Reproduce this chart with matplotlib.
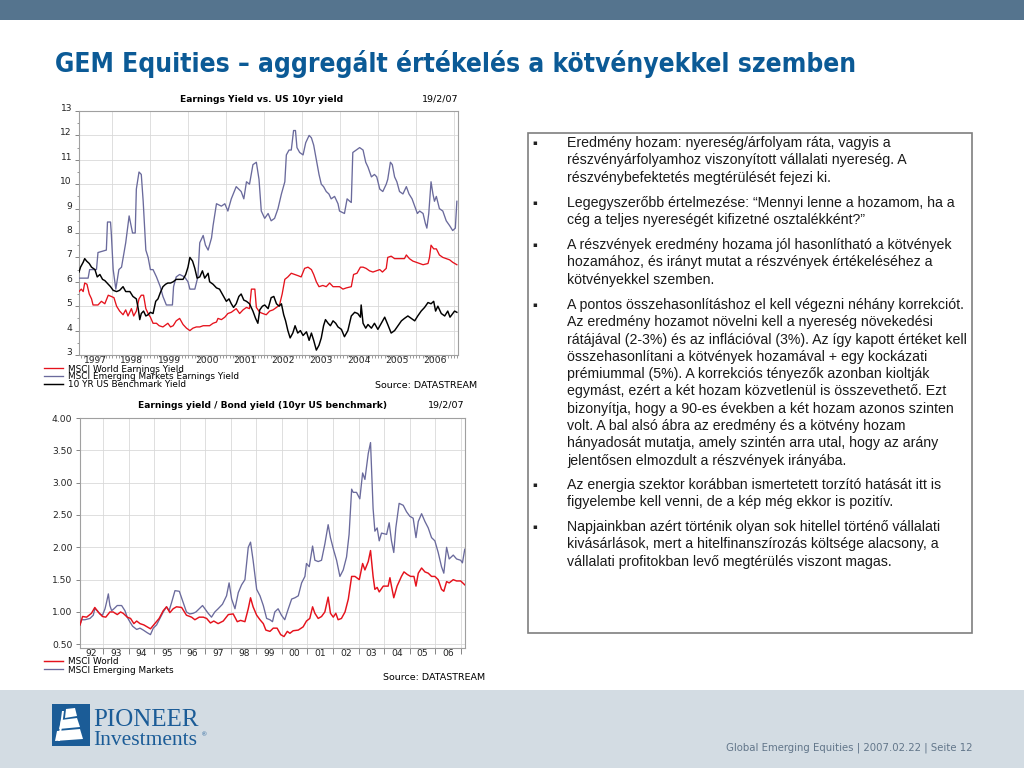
import os
import numpy as np
import matplotlib
matplotlib.use('Agg')
import matplotlib.pyplot as plt
from matplotlib import font_manager
from matplotlib.font_manager import FontProperties
from matplotlib.patches import Rectangle, Polygon
from matplotlib.ticker import FixedLocator, MultipleLocator, NullFormatter

# ---------------- data: top chart (yields, %) ----------------
em_ey_dates = [1997.12, 1997.36, 1997.40, 1997.58, 1997.62, 1997.84, 1997.87, 1997.95, 1997.97, 1998.02,
               1998.09, 1998.17, 1998.24, 1998.35, 1998.44, 1998.53, 1998.60, 1998.63, 1998.70, 1998.76,
               1998.81, 1998.88, 1998.94, 1999.00, 1999.07, 1999.16, 1999.26, 1999.33, 1999.42, 1999.58,
               1999.61, 1999.68, 1999.77, 1999.90, 1999.99, 2000.04, 2000.17, 2000.25, 2000.30, 2000.39,
               2000.45, 2000.52, 2000.61, 2000.65, 2000.74, 2000.87, 2000.96, 2001.04, 2001.13, 2001.26,
               2001.39, 2001.46, 2001.53, 2001.61, 2001.70, 2001.79, 2001.86, 2001.92, 2002.01, 2002.10,
               2002.18, 2002.27, 2002.36, 2002.45, 2002.54, 2002.58, 2002.65, 2002.71, 2002.77, 2002.82,
               2002.86, 2002.93, 2003.02, 2003.09, 2003.18, 2003.24, 2003.30, 2003.37, 2003.44, 2003.50,
               2003.56, 2003.63, 2003.70, 2003.76, 2003.85, 2003.94, 2003.98, 2004.11, 2004.18, 2004.25,
               2004.29, 2004.33, 2004.42, 2004.51, 2004.60, 2004.67, 2004.73, 2004.82, 2004.90, 2004.96,
               2005.04, 2005.12, 2005.21, 2005.25, 2005.32, 2005.37, 2005.43, 2005.49, 2005.56, 2005.65,
               2005.74, 2005.81, 2005.89, 2005.96, 2006.03, 2006.09, 2006.18, 2006.24, 2006.28, 2006.33,
               2006.39, 2006.44, 2006.48, 2006.53, 2006.61, 2006.70, 2006.79, 2006.88, 2006.96, 2007.03,
               2007.07]
em_ey = [6.15, 6.15, 6.5, 6.5, 7.2, 7.3, 8.45, 8.45, 8.0, 6.5,
         5.7, 6.5, 6.6, 7.6, 8.7, 8.0, 8.0, 9.8, 10.5, 10.4,
         9.3, 7.3, 7.0, 6.5, 6.5, 6.2, 5.8, 5.4, 5.05, 5.05,
         5.8, 6.2, 6.3, 6.2, 6.0, 5.7, 5.7, 6.2, 7.6, 7.9,
         7.5, 7.3, 7.8, 8.3, 9.2, 9.1, 9.2, 8.9, 9.4, 9.9,
         9.7, 9.4, 10.1, 10.0, 10.8, 10.9, 10.2, 8.9, 8.6, 8.8,
         8.5, 8.6, 9.0, 9.6, 10.1, 11.2, 11.4, 11.4, 12.2, 12.2,
         11.5, 11.3, 11.2, 11.7, 12.0, 11.9, 11.6, 11.0, 10.4, 10.0,
         9.9, 9.7, 9.6, 9.4, 9.5, 9.2, 8.9, 8.8, 9.4, 9.3,
         9.25, 11.3, 11.4, 11.5, 11.4, 10.9, 10.7, 10.3, 10.4, 10.3,
         9.8, 9.7, 10.0, 10.2, 10.9, 10.8, 10.3, 10.1, 9.7, 9.6,
         9.9, 9.6, 9.4, 9.1, 8.8, 8.9, 8.8, 8.4, 8.2, 8.8,
         10.1, 9.6, 9.3, 9.5, 9.0, 8.9, 8.5, 8.3, 8.1, 8.2,
         9.3]

world_ey_dates = [1997.12, 1997.18, 1997.23, 1997.27, 1997.33, 1997.39, 1997.45, 1997.49, 1997.62, 1997.71,
                  1997.80, 1997.89, 1997.97, 1998.04, 1998.11, 1998.19, 1998.28, 1998.35, 1998.41, 1998.50,
                  1998.56, 1998.63, 1998.70, 1998.76, 1998.82, 1998.88, 1998.94, 1999.00, 1999.07, 1999.16,
                  1999.23, 1999.33, 1999.46, 1999.53, 1999.60, 1999.68, 1999.77, 1999.86, 1999.95, 2000.04,
                  2000.12, 2000.21, 2000.30, 2000.39, 2000.47, 2000.56, 2000.65, 2000.74, 2000.78, 2000.87,
                  2000.96, 2001.04, 2001.13, 2001.26, 2001.35, 2001.44, 2001.53, 2001.61, 2001.66, 2001.75,
                  2001.79, 2001.88, 2001.96, 2002.05, 2002.14, 2002.23, 2002.32, 2002.40, 2002.47, 2002.54,
                  2002.62, 2002.71, 2002.80, 2002.89, 2002.97, 2003.06, 2003.15, 2003.24, 2003.30, 2003.37,
                  2003.44, 2003.54, 2003.63, 2003.72, 2003.81, 2003.89, 2003.98, 2004.07, 2004.16, 2004.29,
                  2004.35, 2004.44, 2004.53, 2004.60, 2004.68, 2004.77, 2004.86, 2004.95, 2005.04, 2005.11,
                  2005.21, 2005.25, 2005.34, 2005.43, 2005.56, 2005.69, 2005.74, 2005.82, 2005.91, 2006.00,
                  2006.09, 2006.18, 2006.31, 2006.35, 2006.39, 2006.46, 2006.53, 2006.61, 2006.70, 2006.79,
                  2006.88, 2006.96, 2007.07]
world_ey = [5.6, 5.7, 5.6, 5.95, 5.9, 5.5, 5.3, 5.05, 5.05, 5.2,
            5.1, 5.45, 5.4, 5.35, 5.0, 4.8, 4.65, 4.85, 4.6, 4.9,
            4.6, 4.8, 5.3, 5.45, 5.45, 4.9, 4.7, 4.55, 4.3, 4.3,
            4.2, 4.15, 4.3, 4.15, 4.2, 4.4, 4.5, 4.25, 4.1, 4.0,
            4.1, 4.15, 4.15, 4.2, 4.2, 4.2, 4.3, 4.35, 4.5, 4.45,
            4.55, 4.7, 4.75, 4.9, 4.7, 4.85, 4.95, 4.9, 5.7, 5.7,
            4.95, 4.75, 4.7, 4.65, 4.8, 4.85, 4.95, 5.05, 5.5, 6.1,
            6.2, 6.35, 6.3, 6.25, 6.2, 6.55, 6.6, 6.5, 6.3, 6.0,
            5.8, 5.85, 5.8, 5.95, 5.8, 5.8, 5.8, 5.7, 5.75, 5.8,
            6.3, 6.35, 6.6, 6.6, 6.55, 6.45, 6.4, 6.45, 6.5, 6.4,
            6.55, 7.0, 7.05, 6.95, 6.95, 6.95, 7.1, 6.95, 6.85, 6.8,
            6.75, 6.7, 6.75, 7.0, 7.5, 7.35, 7.35, 7.1, 7.0, 6.95,
            6.9, 6.8, 6.7]

us10_dates = [1997.12, 1997.16, 1997.23, 1997.27, 1997.32, 1997.39, 1997.45, 1997.54, 1997.60, 1997.67,
              1997.74, 1997.80, 1997.89, 1997.95, 1998.02, 1998.11, 1998.19, 1998.28, 1998.35, 1998.46,
              1998.54, 1998.63, 1998.68, 1998.72, 1998.76, 1998.82, 1998.88, 1998.94, 1999.00, 1999.07,
              1999.14, 1999.20, 1999.26, 1999.33, 1999.40, 1999.46, 1999.53, 1999.60, 1999.68, 1999.77,
              1999.86, 1999.93, 1999.99, 2000.04, 2000.11, 2000.17, 2000.23, 2000.30, 2000.37, 2000.43,
              2000.52, 2000.56, 2000.65, 2000.74, 2000.82, 2000.91, 2001.00, 2001.07, 2001.13, 2001.19,
              2001.26, 2001.33, 2001.39, 2001.46, 2001.53, 2001.61, 2001.70, 2001.77, 2001.83, 2001.88,
              2001.95, 2002.01, 2002.10, 2002.18, 2002.25, 2002.32, 2002.39, 2002.45, 2002.51, 2002.56,
              2002.62, 2002.68, 2002.75, 2002.81, 2002.88, 2002.95, 2003.02, 2003.11, 2003.18, 2003.24,
              2003.30, 2003.37, 2003.44, 2003.50, 2003.56, 2003.61, 2003.68, 2003.74, 2003.81, 2003.88,
              2003.94, 2004.03, 2004.11, 2004.20, 2004.29, 2004.38, 2004.46, 2004.53, 2004.55, 2004.60,
              2004.67, 2004.73, 2004.82, 2004.90, 2004.99, 2005.08, 2005.17, 2005.25, 2005.34, 2005.43,
              2005.52, 2005.61, 2005.69, 2005.78, 2005.87, 2005.96, 2006.04, 2006.13, 2006.22, 2006.31,
              2006.39, 2006.46, 2006.51, 2006.57, 2006.66, 2006.75, 2006.83, 2006.89, 2006.96, 2007.01,
              2007.07]
us10 = [6.4, 6.6, 6.8, 6.95, 6.85, 6.75, 6.6, 6.5, 6.2, 6.3,
        6.1, 6.05, 5.9, 5.8, 5.65, 5.6, 5.65, 5.8, 5.6, 5.6,
        5.4, 5.3, 4.9, 4.45, 4.7, 4.8, 4.6, 4.65, 4.75, 4.7,
        5.2, 5.3, 5.55, 5.8, 5.9, 5.95, 5.95, 6.0, 6.1, 6.1,
        6.1, 6.3, 6.6, 7.0, 6.85, 6.55, 6.15, 6.2, 6.45, 6.15,
        6.35, 6.0, 5.9, 5.75, 5.7, 5.45, 5.2, 5.3, 5.1, 4.95,
        5.1, 5.4, 5.5, 5.25, 5.2, 5.1, 4.8, 4.5, 4.3, 4.85,
        5.0, 5.05, 4.9, 5.35, 5.4, 5.1, 5.0, 5.1, 4.65, 4.4,
        4.0, 3.7, 3.9, 4.2, 3.9, 4.0, 3.8, 3.95, 3.6, 3.9,
        3.6, 3.2, 3.4, 3.7, 4.2, 4.45, 4.3, 4.2, 4.4, 4.3,
        4.15, 4.05, 3.75, 4.0, 4.6, 4.75, 4.7, 4.55, 5.05, 4.3,
        4.1, 4.25, 4.1, 4.3, 4.05, 4.3, 4.55, 4.25, 3.9, 4.0,
        4.2, 4.4, 4.5, 4.6, 4.5, 4.4, 4.6, 4.8, 4.95, 5.15,
        5.1, 5.2, 4.8, 5.0, 4.7, 4.6, 4.8, 4.55, 4.7, 4.8,
        4.75]

top_years = list(range(1997, 2007))
top_legend = ['MSCI World Earnings Yield', 'MSCI Emerging Markets Earnings Yield', '10 YR US Benchmark Yield']

# ---------------- data: bottom chart (earnings yield / bond yield) ----------------
world_ratio_dates = [1992.09, 1992.19, 1992.35, 1992.54, 1992.67, 1992.80, 1992.97, 1993.10, 1993.26, 1993.39,
                     1993.55, 1993.68, 1993.78, 1993.94, 1994.07, 1994.20, 1994.31, 1994.44, 1994.59, 1994.72,
                     1994.85, 1995.02, 1995.19, 1995.35, 1995.48, 1995.61, 1995.74, 1995.87, 1996.07, 1996.26,
                     1996.46, 1996.59, 1996.76, 1996.92, 1997.05, 1997.20, 1997.33, 1997.50, 1997.70, 1997.90,
                     1998.09, 1998.25, 1998.38, 1998.55, 1998.68, 1998.77, 1998.87, 1999.01, 1999.14, 1999.27,
                     1999.37, 1999.53, 1999.66, 1999.81, 1999.95, 2000.08, 2000.21, 2000.31, 2000.44, 2000.64,
                     2000.83, 2000.96, 2001.09, 2001.20, 2001.29, 2001.42, 2001.55, 2001.68, 2001.81, 2001.90,
                     2002.01, 2002.11, 2002.20, 2002.33, 2002.47, 2002.60, 2002.73, 2002.86, 2003.03, 2003.16,
                     2003.25, 2003.38, 2003.47, 2003.57, 2003.64, 2003.73, 2003.81, 2003.97, 2004.16, 2004.23,
                     2004.29, 2004.38, 2004.51, 2004.68, 2004.78, 2004.91, 2005.04, 2005.17, 2005.25, 2005.34,
                     2005.47, 2005.60, 2005.73, 2005.86, 2005.99, 2006.12, 2006.25, 2006.34, 2006.45, 2006.55,
                     2006.71, 2006.84, 2007.00, 2007.16]
world_ratio = [0.80, 0.93, 0.92, 0.98, 1.07, 1.00, 0.93, 0.92, 1.00, 1.00,
               0.96, 1.00, 0.98, 0.92, 0.90, 0.82, 0.86, 0.82, 0.80, 0.77,
               0.74, 0.82, 0.90, 1.02, 1.08, 0.99, 1.05, 1.08, 1.07, 0.95,
               0.92, 0.88, 0.92, 0.92, 0.90, 0.83, 0.86, 0.82, 0.86, 0.96,
               0.97, 0.85, 0.87, 0.85, 1.05, 1.22, 1.08, 0.95, 0.88, 0.82,
               0.72, 0.70, 0.75, 0.75, 0.65, 0.62, 0.70, 0.67, 0.71, 0.72,
               0.77, 0.86, 0.90, 1.08, 0.98, 0.90, 0.93, 1.00, 1.23, 0.98,
               0.92, 0.98, 0.88, 0.90, 1.00, 1.20, 1.55, 1.55, 1.50, 1.75,
               1.65, 1.78, 1.95, 1.55, 1.35, 1.38, 1.31, 1.40, 1.40, 1.53,
               1.40, 1.22, 1.40, 1.55, 1.62, 1.58, 1.55, 1.55, 1.40, 1.60,
               1.68, 1.62, 1.60, 1.55, 1.55, 1.50, 1.35, 1.32, 1.47, 1.45,
               1.50, 1.48, 1.48, 1.42]

em_ratio_dates = [1992.09, 1992.15, 1992.28, 1992.48, 1992.61, 1992.67, 1992.77, 1992.87, 1992.97, 1993.07,
                  1993.13, 1993.20, 1993.26, 1993.33, 1993.42, 1993.55, 1993.72, 1993.85, 1993.94, 1994.04,
                  1994.15, 1994.31, 1994.44, 1994.57, 1994.72, 1994.85, 1994.96, 1995.09, 1995.22, 1995.35,
                  1995.48, 1995.58, 1995.68, 1995.81, 1995.98, 1996.13, 1996.26, 1996.39, 1996.52, 1996.63,
                  1996.76, 1996.89, 1996.98, 1997.11, 1997.24, 1997.37, 1997.50, 1997.67, 1997.83, 1997.93,
                  1998.03, 1998.16, 1998.29, 1998.42, 1998.55, 1998.68, 1998.77, 1998.87, 1999.01, 1999.14,
                  1999.27, 1999.40, 1999.53, 1999.63, 1999.72, 1999.85, 1999.98, 2000.11, 2000.25, 2000.38,
                  2000.51, 2000.64, 2000.77, 2000.90, 2000.96, 2001.07, 2001.20, 2001.29, 2001.42, 2001.55,
                  2001.68, 2001.81, 2001.90, 2002.03, 2002.14, 2002.27, 2002.40, 2002.53, 2002.63, 2002.73,
                  2002.79, 2002.92, 2003.05, 2003.16, 2003.25, 2003.38, 2003.47, 2003.57, 2003.64, 2003.73,
                  2003.81, 2003.90, 2004.10, 2004.20, 2004.29, 2004.38, 2004.46, 2004.59, 2004.75, 2004.88,
                  2005.01, 2005.14, 2005.25, 2005.34, 2005.47, 2005.60, 2005.73, 2005.86, 2005.99, 2006.12,
                  2006.25, 2006.34, 2006.45, 2006.55, 2006.71, 2006.84, 2007.00, 2007.07, 2007.16]
em_ratio = [0.80, 0.88, 0.88, 0.90, 0.95, 1.05, 1.02, 0.97, 0.95, 1.05,
            1.15, 1.28, 1.10, 1.02, 1.05, 1.10, 1.10, 1.02, 0.92, 0.85,
            0.78, 0.73, 0.75, 0.72, 0.68, 0.65, 0.75, 0.80, 0.90, 1.00,
            1.08, 1.02, 1.15, 1.33, 1.32, 1.15, 1.00, 0.97, 0.98, 1.00,
            1.05, 1.10, 1.05, 0.98, 0.92, 1.00, 1.05, 1.12, 1.25, 1.45,
            1.20, 1.05, 1.30, 1.42, 1.50, 2.00, 2.08, 1.80, 1.35, 1.25,
            1.10, 0.90, 0.88, 0.85, 1.00, 1.05, 0.95, 0.88, 1.05, 1.20,
            1.22, 1.25, 1.45, 1.55, 1.75, 1.70, 2.02, 1.80, 1.78, 1.80,
            2.05, 2.35, 2.15, 1.95, 1.80, 1.55, 1.65, 1.85, 2.20, 2.90,
            2.85, 2.85, 2.75, 3.15, 3.05, 3.45, 3.62, 2.60, 2.25, 2.30,
            2.10, 2.22, 2.20, 2.38, 2.10, 1.92, 2.30, 2.68, 2.65, 2.55,
            2.48, 2.45, 2.15, 2.40, 2.52, 2.40, 2.30, 2.15, 2.10, 1.92,
            1.70, 1.60, 2.00, 1.82, 1.88, 1.82, 1.80, 1.76, 1.97]

bottom_years = list(range(1992, 2007))
bottom_legend = ['MSCI World', 'MSCI Emerging Markets']

# ---------------- text ----------------
page_title = 'GEM Equities \u2013 aggregált értékelés a kötvényekkel szemben'
footer_text = 'Global Emerging Equities | 2007.02.22 | Seite 12'
bullets = [
    ['Eredmény hozam: nyereség/árfolyam ráta, vagyis a',
     'részvényárfolyamhoz viszonyított vállalati nyereség. A',
     'részvénybefektetés megtérülését fejezi ki.'],
    ['Legegyszerőbb értelmezése: \u201cMennyi lenne a hozamom, ha a',
     'cég a teljes nyereségét kifizetné osztalékként?\u201d'],
    ['A részvények eredmény hozama jól hasonlítható a kötvények',
     'hozamához, és irányt mutat a részvények értékeléséhez a',
     'kötvényekkel szemben.'],
    ['A pontos összehasonlításhoz el kell végezni néhány korrekciót.',
     'Az eredmény hozamot növelni kell a nyereség növekedési',
     'rátájával (2-3%) és az inflációval (3%). Az így kapott értéket kell',
     'összehasonlítani a kötvények hozamával + egy kockázati',
     'prémiummal (5%). A korrekciós tényezők azonban kioltják',
     'egymást, ezért a két hozam közvetlenül is összevethető. Ezt',
     'bizonyítja, hogy a 90-es években a két hozam azonos szinten',
     'volt. A bal alsó ábra az eredmény és a kötvény hozam',
     'hányadosát mutatja, amely szintén arra utal, hogy az arány',
     'jelentősen elmozdult a részvények irányába.'],
    ['Az energia szektor korábban ismertetett torzító hatását itt is',
     'figyelembe kell venni, de a kép még ekkor is pozitív.'],
    ['Napjainkban azért történik olyan sok hitellel történő vállalati',
     'kivásárlások, mert a hitelfinanszírozás költsége alacsony, a',
     'vállalati profitokban levő megtérülés viszont magas.'],
]

# ---------------- styles ----------------
RED = '#E5121C'
EM = '#6A6A9C'
GRID = '#D9D9D9'
FRAME = '#A0A0A0'
BLUE = '#0B5A96'
CHART_FONT = ['DejaVu Sans']
plt.rcParams['font.family'] = ['Liberation Sans', 'DejaVu Sans']


def font_file(candidates):
    files = {os.path.basename(f.fname): f.fname for f in font_manager.fontManager.ttflist}
    for c in candidates:
        if c in files:
            return files[c]
    return None


narrow_bold = font_file(['LiberationSansNarrow-Bold.ttf', 'DejaVuSansCondensed-Bold.ttf',
                         'RobotoCondensed-Bold.ttf', 'OpenSans_Condensed-Bold.ttf'])
narrow_reg = font_file(['LiberationSansNarrow-Regular.ttf', 'DejaVuSansCondensed.ttf',
                        'RobotoCondensed-Regular.ttf', 'OpenSans_Condensed-Regular.ttf'])
if narrow_bold:
    title_fp = FontProperties(fname=narrow_bold)
else:
    title_fp = FontProperties(family=['Liberation Sans', 'DejaVu Sans'], weight='bold')
if narrow_reg:
    foot_fp = FontProperties(fname=narrow_reg)
else:
    foot_fp = FontProperties(family=['Liberation Sans', 'DejaVu Sans'])

fig = plt.figure(figsize=(10.24, 7.68), dpi=100)
fig.patch.set_facecolor('white')

# page layer in pixel coordinates
bg = fig.add_axes([0, 0, 1, 1], zorder=0)
bg.set_xlim(0, 1024)
bg.set_ylim(768, 0)
bg.axis('off')

bg.add_patch(Rectangle((0, 0), 1024, 20, color='#55748E', lw=0))
title = bg.text(55, 64, page_title, color=BLUE, va='center', ha='left', fontproperties=title_fp, fontsize=20)

# footer
bg.add_patch(Rectangle((0, 690), 1024, 78, color='#D3DCE3', lw=0))
bg.add_patch(Rectangle((52, 704), 38, 42, color='#1B5C97', lw=0))
for pts in [[(66, 709), (75, 708), (77, 716), (65, 718)],
            [(61, 720), (77, 718), (80, 727), (59, 729)],
            [(57, 731), (80, 729), (83, 739), (55, 741)],
            [(62, 711), (64, 711), (60, 741), (58, 741)]]:
    bg.add_patch(Polygon(pts, closed=True, color='white', lw=0))
bg.text(93, 726, 'PIONEER', family=['Liberation Serif', 'DejaVu Serif'], fontsize=18,
        color='#1B5C97', ha='left', va='baseline')
bg.text(93, 745, 'Investments', family=['Liberation Serif', 'DejaVu Serif'], fontsize=15.5,
        color='#1B5C97', ha='left', va='baseline')
bg.text(202, 736, '\u00ae', fontsize=4.5, color='#1B5C97', ha='left', va='baseline')
footer = bg.text(973, 748, footer_text, color='#62768A', ha='right', va='center', fontproperties=foot_fp,
                 fontsize=8)

# text box
bg.add_patch(Rectangle((528, 133), 444, 500, facecolor='white', edgecolor='#7F7F7F', lw=1.2))
para_y = [143, 203, 245, 305, 485, 527]
for y0, lines in zip(para_y, bullets):
    bg.text(534.5, y0, '\u25aa', family=['DejaVu Sans'], fontsize=5, ha='center', va='center', color='#222222')
    for i, line in enumerate(lines):
        bg.text(567, y0 + i * 17.3, line, fontsize=10.2, ha='left', va='center', color='#1A1A1A')


def frame(ax):
    for s in ax.spines.values():
        s.set_color(FRAME)
        s.set_linewidth(0.8)
    ax.tick_params(axis='both', colors='#707070', labelcolor='#222222', labelsize=6.6, width=0.6)
    for lab in ax.get_xticklabels(which='both') + ax.get_yticklabels():
        lab.set_family(CHART_FONT)


# ---------------- top chart ----------------
ax1 = fig.add_axes([79 / 1024, 1 - 355 / 768, 379 / 1024, 244 / 768], zorder=1)
l_em, = ax1.plot(em_ey_dates, em_ey, color=EM, lw=0.95, zorder=3)
l_w, = ax1.plot(world_ey_dates, world_ey, color=RED, lw=0.95, zorder=4)
l_us, = ax1.plot(us10_dates, us10, color='black', lw=1.05, zorder=5)
x_lo, x_hi = 1997.12, 2007.10
ax1.set_xlim(x_lo, x_hi)
ax1.set_ylim(3, 13)
ax1.set_yticks(range(3, 14))
ax1.yaxis.set_minor_locator(MultipleLocator(0.5))
ax1.yaxis.grid(True, color=GRID, lw=0.6)
for yr in top_years[1:] + [top_years[-1] + 1]:
    ax1.axvline(yr, color=GRID, lw=0.6, zorder=1)
mids = [(max(yr, x_lo) + min(yr + 1, x_hi)) / 2 for yr in top_years]
ax1.xaxis.set_major_locator(FixedLocator(mids))
ax1.set_xticklabels([str(yr) for yr in top_years])
ax1.xaxis.set_minor_locator(MultipleLocator(1 / 12))
ax1.xaxis.set_minor_formatter(NullFormatter())
ax1.set_axisbelow(True)
frame(ax1)
ax1.tick_params(axis='x', which='major', length=0, pad=0.5)
ax1.tick_params(axis='x', which='minor', length=2.5, width=0.5, colors='#707070')
ax1.tick_params(axis='y', which='major', length=3, pad=2)
ax1.tick_params(axis='y', which='minor', length=1.5, width=0.5, colors='#707070')
for lab in ax1.get_yticklabels():
    lab.set_verticalalignment('baseline')

bg.text(262, 99.5, 'Earnings Yield vs. US 10yr yield', family=CHART_FONT, fontsize=6.6, weight='bold',
        ha='center', va='center')
bg.text(440, 99.5, '19/2/07', family=CHART_FONT, fontsize=6.8, ha='center', va='center')
bg.text(477, 386, 'Source: DATASTREAM', family=CHART_FONT, fontsize=6.8, ha='right', va='center')
fig.legend([l_w, l_em, l_us], top_legend,
           loc='upper left', bbox_to_anchor=(44 / 1024, 1 - 364.5 / 768), frameon=False,
           prop=FontProperties(family=CHART_FONT, size=6.4),
           handlelength=2.1, handletextpad=0.65, labelspacing=-0.12, borderpad=0, borderaxespad=0)

# ---------------- bottom chart ----------------
ax2 = fig.add_axes([80 / 1024, 1 - 648 / 768, 385 / 1024, 230 / 768], zorder=1)
b_em, = ax2.plot(em_ratio_dates, em_ratio, color=EM, lw=0.95, zorder=3)
b_w, = ax2.plot(world_ratio_dates, world_ratio, color=RED, lw=1.05, zorder=4)
b_lo, b_hi = 1992.09, 2007.17
ax2.set_xlim(b_lo, b_hi)
ax2.set_ylim(0.443, 4.0)
yt = np.arange(0.5, 4.01, 0.5)
ax2.set_yticks(yt)
ax2.set_yticklabels(['%.2f' % v for v in yt])
ax2.yaxis.grid(True, color=GRID, lw=0.6)
ax2.xaxis.set_major_locator(FixedLocator(bottom_years[1:] + [bottom_years[-1] + 1]))
ax2.xaxis.set_major_formatter(NullFormatter())
ax2.xaxis.grid(True, color=GRID, lw=0.6)
bmids = [(max(yr, b_lo) + min(yr + 1, b_hi)) / 2 for yr in bottom_years]
ax2.xaxis.set_minor_locator(FixedLocator(bmids))
ax2.set_xticklabels(['%02d' % (yr % 100) for yr in bottom_years], minor=True)
ax2.set_axisbelow(True)
frame(ax2)
ax2.tick_params(axis='x', which='major', length=4)
ax2.tick_params(axis='x', which='minor', length=0, pad=0.5, labelsize=6.6, labelcolor='#222222')
ax2.tick_params(axis='y', which='major', length=3, pad=2.5)

bg.text(262, 405, 'Earnings yield / Bond yield (10yr US benchmark)', family=CHART_FONT, fontsize=6.6,
        weight='bold', ha='center', va='center')
bg.text(446, 405.5, '19/2/07', family=CHART_FONT, fontsize=6.8, ha='center', va='center')
bg.text(485, 677, 'Source: DATASTREAM', family=CHART_FONT, fontsize=6.8, ha='right', va='center')
fig.legend([b_w, b_em], bottom_legend,
           loc='upper left', bbox_to_anchor=(44 / 1024, 1 - 657 / 768), frameon=False,
           prop=FontProperties(family=CHART_FONT, size=6.4),
           handlelength=2.1, handletextpad=0.65, labelspacing=-0.05, borderpad=0, borderaxespad=0)

# fit the page title and footer to the widths they take on the slide
fig.canvas.draw()
for txt, target in [(title, 800), (footer, 246)]:
    w = txt.get_window_extent().width
    txt.set_fontsize(txt.get_fontsize() * target / w)

fig.savefig('out.png', dpi=100)
